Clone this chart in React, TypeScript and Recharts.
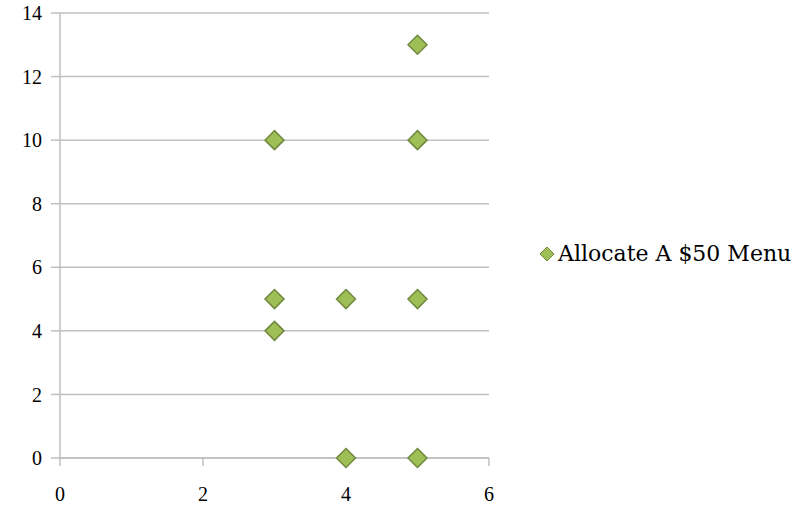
import React from "react";
import { ScatterChart, Scatter, XAxis, YAxis, CartesianGrid, Legend } from "recharts";

const xValues = [3, 3, 3, 4, 4, 5, 5, 5, 5];
const yValues = [10, 5, 4, 5, 0, 13, 10, 5, 0];
const xTicks = [0, 2, 4, 6];
const yTicks = [0, 2, 4, 6, 8, 10, 12, 14];
const seriesName = "Allocate A $50 Menu";

const points = xValues.map((x, i) => ({ x, y: yValues[i] }));

const FILL = "#9EBF55";
const STROKE = "#71893F";
const GRID = "#BFBFBF";
const FONT = "'Liberation Serif', 'DejaVu Serif', serif";
const LEGEND_W = 267;

const Diamond = (props: any) => {
  const { cx, cy } = props;
  const r = 9.5;
  return (
    <polygon
      points={`${cx},${cy - r} ${cx + r},${cy} ${cx},${cy + r} ${cx - r},${cy}`}
      fill={FILL}
      stroke={STROKE}
      strokeWidth={1.5}
    />
  );
};

const LegendContent = () => (
  <div style={{ display: "flex", alignItems: "center", fontFamily: "'DejaVu Serif', serif", fontSize: 22, color: "#000", whiteSpace: "nowrap" }}>
    <svg width={16} height={16} style={{ marginRight: 3 }}>
      <polygon points="8,1 15,8 8,15 1,8" fill={FILL} stroke={STROKE} strokeWidth={1} />
    </svg>
    <span>{seriesName}</span>
  </div>
);

export default function App() {
  return (
    <div style={{ position: "absolute", left: 0, top: 0, background: "#fff" }}>
      <ScatterChart width={804} height={507} margin={{ top: 13, right: 315 - LEGEND_W, bottom: 0, left: 0 }}>
        <CartesianGrid horizontal vertical={false} stroke={GRID} strokeWidth={1.5} />
        <XAxis
          type="number"
          dataKey="x"
          domain={[0, 6]}
          ticks={xTicks}
          height={49}
          axisLine={{ stroke: GRID, strokeWidth: 1.5 }}
          tickLine={{ stroke: GRID, strokeWidth: 1.5 }}
          tickSize={8}
          tickMargin={21}
          tick={{ fill: "#000", fontSize: 20, fontFamily: FONT }}
        />
        <YAxis
          type="number"
          dataKey="y"
          domain={[0, 14]}
          ticks={yTicks}
          width={60}
          axisLine={{ stroke: GRID, strokeWidth: 1.5 }}
          tickLine={{ stroke: GRID, strokeWidth: 1.5 }}
          tickSize={9}
          tickMargin={9}
          tick={{ fill: "#000", fontSize: 20, fontFamily: FONT }}
        />
        <Legend
          layout="vertical"
          align="right"
          verticalAlign="middle"
          content={<LegendContent />}
          wrapperStyle={{ position: "absolute", left: 539, top: 241, width: LEGEND_W }}
        />
        <Scatter
          name={seriesName}
          data={points}
          shape={<Diamond />}
          isAnimationActive={false}
        />
      </ScatterChart>
    </div>
  );
}
